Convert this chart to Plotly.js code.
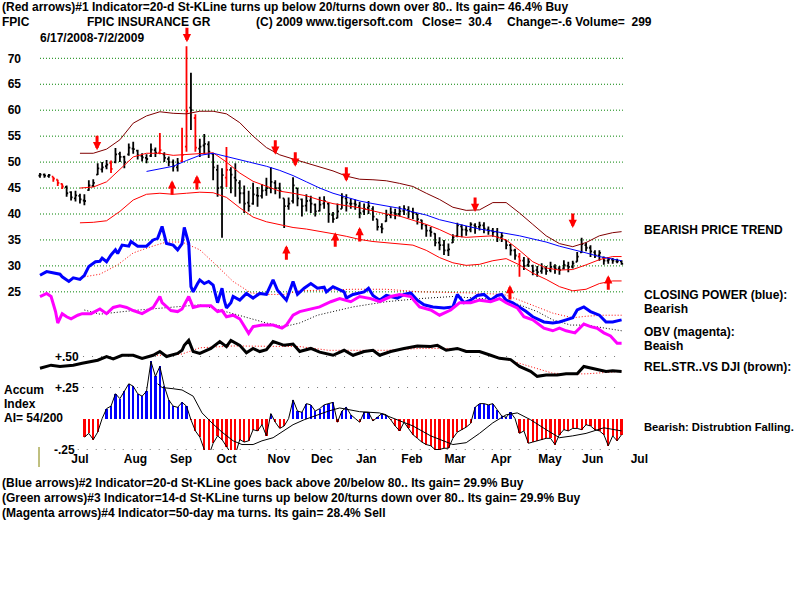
<!DOCTYPE html>
<html><head><meta charset="utf-8">
<script src="https://cdn.plot.ly/plotly-3.0.1.min.js"></script>
<style>body{margin:0;background:#fff}#chart{width:800px;height:600px}</style>
</head><body><div id="chart"></div>
<script>
// ---------------- DATA ----------------
// trading-day index 0 = 6/17/2008 ... 263 = 7/2/2009 ; price bars every 2nd day
const openP  = [47.4,47.6,47.3,47.2,46.6,45.8,45.2,44.2,43.0,43.5,42.6,44.6,45.4,47.6,48.6,49.2,49.8,50.0,51.6,51.0,
                51.5,52.6,52.2,51.2,50.8,51.2,52.3,51.8,51.5,50.6,50.0,49.0,50.2,53.0,60.5,58.5,52.6,53.2,53.4,51.6,
                48.5,45.2,47.0,48.5,47.0,46.0,44.0,42.2,42.0,43.6,43.5,44.6,45.0,46.0,45.0,43.0,41.5,42.5,45.0,42.8,
                41.6,42.6,41.8,40.6,42.0,42.0,39.8,39.2,41.0,43.0,42.0,42.0,41.5,40.5,41.2,41.0,39.0,37.5,38.6,39.8,
                40.2,40.0,40.6,40.8,40.4,40.0,38.8,37.8,36.8,36.2,34.5,34.0,33.0,34.5,35.8,37.6,37.0,37.0,37.8,37.5,
                37.8,37.0,36.8,36.6,35.5,35.0,34.0,33.0,31.8,31.0,30.2,30.0,29.2,29.0,29.5,29.2,29.8,29.5,29.5,30.0,
                29.8,30.8,32.6,34.0,33.5,32.6,32.0,31.6,31.0,31.2,30.9,30.9];
const highP  = [47.9,47.8,47.7,47.2,46.6,45.9,45.5,44.4,44.5,43.9,43.8,46.5,46.7,49.8,50.0,50.4,50.3,52.7,52.0,51.2,
                53.6,53.9,52.4,51.7,51.5,53.6,52.8,55.6,51.9,51.1,50.5,50.8,56.6,72.3,67.2,59.2,54.5,55.4,54.0,51.7,
                49.5,48.8,52.9,49.0,49.8,46.5,45.5,44.5,46.0,45.2,45.8,47.0,49.0,46.5,46.0,43.0,43.2,47.1,45.0,43.0,
                43.8,43.5,42.0,43.3,43.4,42.1,40.4,42.0,44.0,43.8,43.0,42.8,42.3,42.0,42.5,41.5,39.0,38.2,40.8,41.3,
                41.0,41.5,41.7,41.5,41.2,40.0,38.9,38.0,37.5,36.3,35.5,35.0,34.3,36.1,38.3,38.0,37.7,38.4,38.2,38.5,
                38.4,37.6,37.3,37.3,36.5,35.0,34.2,33.3,32.5,31.7,31.5,30.2,30.0,30.5,30.0,30.8,30.3,30.0,31.1,30.8,
                31.0,32.7,35.4,34.5,34.0,33.0,33.0,31.8,31.7,31.5,31.4,31.1];
const lowP   = [47.0,47.0,47.0,46.2,45.4,44.8,43.3,42.6,42.4,42.0,41.7,44.5,45.2,47.5,48.0,48.6,47.9,49.8,50.0,48.8,
                51.2,51.6,50.5,50.1,49.8,51.0,51.0,51.5,50.0,49.2,48.2,48.2,50.0,52.0,56.2,52.0,51.0,51.5,50.8,46.5,
                43.3,35.4,45.2,44.0,43.3,42.0,40.2,40.5,41.8,41.4,43.0,43.5,44.0,43.8,43.0,37.3,40.8,42.0,41.5,39.5,
                40.5,40.2,39.5,40.5,41.0,38.3,38.3,39.2,41.0,40.5,41.0,40.8,39.2,39.8,40.0,38.7,36.8,36.3,38.5,39.2,
                39.0,39.5,39.8,39.2,39.0,38.0,37.0,35.6,35.6,33.8,33.0,32.1,31.9,34.4,35.5,35.5,35.8,36.5,36.2,36.8,
                36.3,36.0,35.6,34.6,34.6,33.2,32.0,31.2,27.9,29.2,29.8,28.2,27.9,28.5,28.3,28.8,28.5,28.3,29.3,28.8,
                29.5,30.8,32.5,32.8,31.7,31.5,31.0,30.2,30.4,30.4,30.5,30.2];
const closeP = [47.6,47.4,47.5,46.8,46.0,45.3,44.0,43.2,43.6,42.8,42.5,45.5,46.0,48.8,49.0,49.5,48.7,51.5,51.0,50.0,
                52.8,52.5,51.3,50.9,50.6,52.4,51.8,52.3,50.8,50.0,49.2,49.8,51.4,59.8,60.0,52.8,53.0,53.5,52.0,49.0,
                45.0,47.5,48.5,47.6,46.5,44.0,42.0,41.5,43.8,43.5,44.5,45.0,46.2,45.0,44.5,41.5,42.0,45.5,43.0,41.5,
                42.5,42.0,40.5,41.8,42.5,40.0,39.0,40.5,43.2,42.2,42.0,41.8,40.2,41.0,41.5,39.5,37.5,37.2,39.8,40.3,
                40.0,40.5,41.0,40.5,40.2,39.0,38.0,36.8,36.5,34.5,34.0,33.0,33.2,35.5,37.8,37.0,36.8,38.0,37.5,37.8,
                37.2,36.8,36.5,35.5,35.8,34.0,33.0,32.0,31.0,30.0,30.8,29.0,28.8,29.5,29.0,29.8,29.5,29.2,30.2,29.8,
                30.5,31.8,34.2,33.5,32.8,32.0,32.5,31.0,31.2,31.0,30.9,30.4];
const redBarDays = [6,8,10,32,54,64,66,70,84,216];

// Bollinger-type bands and 50-day MA
const bandDay   = [18,24,30,36,42,48,54,60,66,72,78,84,90,96,102,108,114,120,126,132,138,144,150,156,162,168,174,180,186,192,198,204,210,216,222,228,234,240,246,252,258,262];
const upperBand = [51.7,51.7,52.5,54.3,57.5,58.9,59.7,59.4,59.3,59.8,59.8,59.3,57.6,55.0,52.8,51.4,50.6,49.8,49.0,48.3,47.3,46.7,46.6,46.4,45.9,45.3,44.0,42.8,41.3,40.7,40.8,42.2,42.2,40.2,38.0,35.8,34.3,33.7,34.5,35.8,36.4,36.6];
const midBand   = [45.0,45.2,46.2,48.6,51.0,51.7,51.7,51.3,51.5,51.7,51.8,50.0,47.9,46.3,45.3,44.4,44.0,43.5,42.7,42.0,41.6,41.2,40.6,40.0,39.6,38.8,38.0,37.0,35.8,35.5,35.6,35.8,35.0,33.0,30.8,29.6,29.2,29.3,30.2,31.2,31.8,31.8];
const lowerBand = [38.3,38.4,38.7,40.5,42.7,43.8,44.0,43.8,44.0,44.2,44.1,43.2,41.2,39.4,38.5,37.9,37.4,37.1,36.7,36.2,35.7,35.1,34.7,34.5,34.3,34.0,33.0,31.6,30.6,30.1,30.3,31.0,31.4,30.2,28.6,27.4,26.0,25.2,25.5,26.6,27.1,27.1];
const maDay  = [48,54,60,66,72,78,84,90,96,102,108,114,120,126,132,138,144,150,156,162,168,174,180,186,192,198,204,210,216,222,228,234,240,246,252,258,262];
const ma50   = [48.2,48.7,49.2,50.3,51.3,51.7,51.1,50.4,49.9,49.2,48.4,47.4,46.2,45.0,44.0,43.2,42.5,42.0,41.5,41.1,40.4,39.8,38.9,38.3,37.8,37.1,36.7,36.3,35.8,35.2,34.6,33.8,33.2,32.5,31.8,31.3,31.0];

// Closing Power (blue) and its MA (red dotted), drawn on the price scale
const cpDay = [0,3,9,10,13,15,18,20,22,25,27,28,30,32,34,35,37,40,41,44,48,51,53,55,57,60,62,64,65,67,68,69,71,72,74,76,78,80,82,83,84,86,87,90,93,96,99,102,105,107,111,114,116,119,122,125,128,129,132,137,138,141,146,148,150,153,156,161,164,167,170,173,177,182,186,188,191,194,197,200,203,206,208,210,213,216,219,222,227,231,234,237,240,242,245,248,252,255,258,262];
const cpVal = [28.2,28.9,28.4,27.9,27.0,27.7,27.4,28.2,29.9,30.8,30.9,31.5,30.8,32.1,33.1,32.4,34.0,33.8,34.7,33.8,33.8,35.0,35.3,37.6,34.3,34.0,33.1,34.3,37.4,34.3,26.0,25.0,26.6,27.3,26.6,27.0,26.3,22.9,25.7,23.4,21.9,22.9,24.1,23.4,24.7,23.8,24.7,24.5,27.3,25.3,23.4,27.0,24.5,25.7,26.6,25.7,25.9,25.0,26.0,25.0,23.8,24.5,25.0,25.7,24.3,23.4,24.3,23.8,24.5,24.8,23.4,22.5,22.1,21.9,22.1,24.5,22.9,23.4,24.3,24.5,23.4,24.3,24.5,23.4,22.9,22.1,21.2,20.2,19.2,19.0,19.2,19.6,20.0,21.5,22.1,21.2,20.5,19.2,19.2,19.6];
const cpMaDay = [20,27,35,42,50,57,64,72,80,87,95,102,110,117,125,141,156,171,194,209,216,224,231,240,246,254,262];
const cpMaVal = [27.9,28.4,30.2,32.5,33.7,34.6,34.6,33.1,29.9,27.0,24.8,24.5,24.5,25.2,25.3,25.5,25.5,25.0,24.8,24.5,23.4,22.1,20.9,20.0,20.3,20.5,20.5];

// OBV (magenta) and its MA (black dotted), drawn on the price scale
const obvDay = [0,3,5,7,8,10,12,14,17,19,23,27,30,33,36,39,42,46,51,54,55,59,62,64,67,69,72,77,80,82,84,87,90,94,96,100,105,109,111,114,117,122,126,131,135,140,144,149,153,158,162,167,171,176,180,185,189,194,198,203,207,210,215,218,222,227,231,234,237,241,245,248,251,254,257,260,262];
const obvVal = [24.1,24.7,24.1,21.2,19.0,20.8,20.2,19.8,20.5,20.8,20.8,21.7,20.8,22.0,22.3,22.0,21.4,20.8,22.0,24.1,22.9,21.4,21.2,21.7,24.1,22.0,22.3,22.3,21.2,21.4,20.2,20.5,19.8,17.0,18.3,18.6,18.6,18.0,18.6,20.5,21.2,21.7,22.1,23.1,23.7,23.1,24.1,23.7,23.1,24.1,24.5,24.1,22.1,21.5,20.5,21.5,22.9,22.9,23.4,23.1,23.7,22.9,21.9,20.2,19.6,18.0,17.5,18.0,17.5,17.1,18.8,18.3,18.0,17.1,16.5,15.1,15.1];
const obvMaDay = [20,27,42,57,72,87,102,110,117,125,141,156,171,186,201,209,216,224,231,239,246,254,262];
const obvMaVal = [21.5,20.7,21.4,22.0,22.5,20.8,19.0,18.3,19.0,20.5,22.1,23.1,23.7,24.1,23.7,23.4,22.5,21.2,19.6,18.6,18.6,18.0,17.5];

// Relative strength vs DJI (black) and its MA (red dotted), accumulation scale
const rsDay = [0,5,9,15,19,26,30,33,37,42,46,51,54,57,62,64,65,67,69,72,77,81,84,86,90,93,96,99,102,105,110,114,117,122,126,132,137,141,146,150,153,158,164,170,176,179,183,188,192,198,203,207,212,216,221,224,228,233,237,242,245,251,255,258,262];
const rsVal = [0.405,0.43,0.42,0.43,0.445,0.47,0.50,0.48,0.51,0.51,0.485,0.51,0.54,0.50,0.525,0.55,0.59,0.63,0.54,0.525,0.565,0.62,0.58,0.63,0.59,0.53,0.565,0.54,0.555,0.62,0.59,0.60,0.54,0.565,0.535,0.51,0.55,0.51,0.54,0.55,0.51,0.54,0.565,0.585,0.58,0.59,0.55,0.565,0.54,0.54,0.51,0.485,0.475,0.42,0.38,0.34,0.35,0.35,0.36,0.36,0.42,0.395,0.38,0.385,0.38];
const rsMaDay = [50,57,64,72,87,102,117,130,156,171,186,201,216,224,231,239,246,262];
const rsMaVal = [0.51,0.51,0.52,0.57,0.585,0.58,0.58,0.55,0.55,0.565,0.565,0.525,0.445,0.405,0.365,0.36,0.36,0.38];

// Accumulation Index (bars every 2nd day from day 20) and its MA
const accVal = [-0.15,-0.12,-0.17,-0.11,0.0,0.08,0.10,0.20,0.16,0.22,
                0.28,0.26,0.20,0.18,0.22,0.46,0.34,0.42,0.26,0.15,
                0.10,0.09,0.13,0.10,-0.01,-0.10,-0.15,-0.25,-0.30,-0.20,
                -0.14,-0.17,-0.23,-0.28,-0.29,-0.17,-0.19,-0.18,-0.09,-0.10,
                -0.05,-0.14,0.04,-0.03,-0.08,-0.06,0.0,0.15,0.06,0.05,
                0.12,0.11,0.06,0.08,0.11,0.12,0.13,-0.03,0.06,0.09,
                0.03,0.0,-0.03,0.05,0.05,-0.02,0.01,0.04,0.03,-0.01,
                -0.06,-0.10,-0.03,-0.08,-0.13,-0.16,-0.19,-0.21,-0.22,-0.25,
                -0.25,-0.24,-0.24,-0.16,-0.11,-0.09,-0.07,-0.04,0.09,0.12,
                0.12,0.11,0.12,0.07,0.02,0.01,0.05,0.0,-0.12,-0.10,
                -0.20,-0.19,-0.18,-0.17,-0.16,-0.16,-0.21,-0.13,-0.09,-0.10,
                -0.08,-0.08,-0.09,-0.05,-0.06,-0.09,-0.10,-0.13,-0.22,-0.14,
                -0.18,-0.13];
const accMaDay = [53,55,60,64,69,73,78,82,87,91,96,100,105,110,114,119,125,130,135,144,153,161,168,176,186,192,198,204,210,215,221,228,234,240,246,254,262];
const accMaVal = [0.28,0.25,0.24,0.23,0.18,0.045,-0.045,-0.11,-0.18,-0.21,-0.21,-0.18,-0.155,-0.10,-0.05,-0.01,0.03,0.06,0.085,0.055,0.045,-0.01,-0.06,-0.14,-0.21,-0.195,-0.12,-0.035,0.03,0.045,-0.01,-0.09,-0.155,-0.14,-0.12,-0.075,-0.1];

// Signal arrows (red)
const downArrowDay   = [25.7,66.2,106,115,138,196,240];
const downArrowPrice = [52.3,73.1,51.4,49.1,46.2,40.4,37.3];
const upArrowDay     = [59.5,70.7,111,133,144,211.7,256];
const upArrowPrice   = [46.5,47.5,34.0,36.5,37.5,26.3,28.2];

// Axis labels
const priceTicks  = [25,30,35,40,45,50,55,60,65,70];
const monthPos    = [18,43,63.5,84,107.6,127,147,167.6,187,207.7,229.7,249,270];
const monthLabels = ['Jul','Aug','Sep','Oct','Nov','Dec','Jan','Feb','Mar','Apr','May','Jun','Jul'];
const accLevels   = [0.5,0.25,-0.25];
const accLabels   = ['+.50','+.25','-.25'];

// ---------------- BUILD ----------------
const priceDay = closeP.map((_, k) => 2 * k);
const accDay = accVal.map((_, k) => 20 + 2 * k);
const FONT = 'Liberation Sans, Arial, sans-serif';
const L = 30, T = 0, PW = 620, PH = 450;
const PX = px => (px - L) / PW;
const PY = py => 1 - (py - T) / PH;

function sel(arr, want) { return arr.filter((_, k) => redBarDays.includes(priceDay[k]) === want); }
function ohlc(red) {
  const c = red ? '#ff0000' : '#000000';
  return {type: 'ohlc', x: sel(priceDay, red), open: sel(openP, red), high: sel(highP, red),
    low: sel(lowP, red), close: sel(closeP, red), tickwidth: 0.35, hoverinfo: 'skip',
    increasing: {line: {color: c, width: 1.8}}, decreasing: {line: {color: c, width: 1.8}}};
}
function line(x, y, color, width, dash, axis) {
  return {type: 'scatter', mode: 'lines', x: x, y: y, yaxis: axis || 'y', hoverinfo: 'skip',
    line: {color: color, width: width, dash: dash || 'solid'}};
}

const traces = [
  line(bandDay, upperBand, '#800000', 1),
  line(bandDay, midBand, '#ff0000', 1),
  line(bandDay, lowerBand, '#ff0000', 1),
  line(maDay, ma50, '#0000ff', 1),
  ohlc(false), ohlc(true),
  line(cpMaDay, cpMaVal, '#ff0000', 1, '1px,2px'),
  line(obvMaDay, obvMaVal, '#000000', 1, '1px,2px'),
  line(cpDay, cpVal, '#0000ff', 3),
  line(obvDay, obvVal, '#ff00ff', 3),
  line(rsMaDay, rsMaVal, '#ff0000', 1, '1px,2px', 'y2'),
  line(rsDay, rsVal, '#000000', 3, 'solid', 'y2'),
  {type: 'bar', x: accDay, y: accVal, yaxis: 'y2', width: 1, cliponaxis: false, hoverinfo: 'skip',
   marker: {color: accVal.map(v => v >= 0 ? '#0000ff' : '#ff0000'), line: {width: 0}}},
  Object.assign(line(accDay, accVal, '#000000', 1, 'solid', 'y2'), {cliponaxis: false}),
  line(accMaDay, accMaVal, '#000000', 1, 'solid', 'y2')
];

const shapes = [];
priceTicks.forEach(p => shapes.push({type: 'line', xref: 'x', yref: 'y', x0: 0, x1: 262.6, y0: p, y1: p,
  layer: 'below', line: {color: '#008000', width: 1, dash: '1px,2px'}}));
accLevels.forEach((v, k) => shapes.push({type: 'line', xref: 'x', yref: 'y2', x0: k === 2 ? 17 : 19.4, x1: 262.6, y0: v, y1: v,
  layer: 'below', line: {color: '#777777', width: 1, dash: '1px,8px'}}));
shapes.push({type: 'line', xref: 'paper', yref: 'paper', x0: PX(39), x1: PX(39), y0: PY(447), y1: PY(467),
  line: {color: '#808000', width: 1}});

const ann = [];
function txt(s, px, py, size, bold, anchor) {
  ann.push({text: bold ? '<b>' + s + '</b>' : s, x: PX(px), y: PY(py), xref: 'paper', yref: 'paper',
    xanchor: anchor || 'left', yanchor: 'middle', showarrow: false,
    font: {family: FONT, size: size, color: '#000'}});
}
const HS = 12;
txt('(Red arrows)#1 Indicator=20-d St-KLine turns up below 20/turns down over 80.. Its gain= 46.4% Buy', 0, 7, HS, true);
txt('FPIC', 0, 22, HS, true);
txt('FPIC INSURANCE GR', 85, 22, HS, true);
txt('(C) 2009 www.tigersoft.com', 254, 22, HS, true);
txt('Close=  30.4', 420, 22, HS, true);
txt('Change=-.6 Volume=  299', 505, 22, HS, true);
txt('6/17/2008-7/2/2009', 38, 38, HS, true);
txt('(Blue arrows)#2 Indicator=20-d St-KLine goes back above 20/below 80.. Its gain= 29.9% Buy', 0, 483, HS, true);
txt('(Green arrows)#3 Indicator=14-d St-KLine turns up below 20/turns down over 80.. Its gain= 29.9% Buy', 0, 498, HS, true);
txt('(Magenta arrows)#4 Indicator=50-day ma turns. Its gain= 28.4% Sell', 0, 513, HS, true);
txt('BEARISH PRICE TREND', 642, 230, 12, true);
txt('CLOSING POWER (blue):', 642, 295, 12, true);
txt('Bearish', 642, 309, 12, true);
txt('OBV (magenta):', 642, 332, 12, true);
txt('Beaish', 642, 346, 12, true);
txt('REL.STR..VS DJI (brown):', 642, 367, 12, true);
txt('Bearish: Distrubtion Falling.', 642, 427, 11.2, true);
txt('Accum', 2, 390, 12, true);
txt('Index', 2, 404, 12, true);
txt('AI= 54/200', 2, 418, 12, true);
accLevels.forEach((v, k) => ann.push({text: '<b>' + accLabels[k] + '</b>', x: k === 2 ? 16.5 : 18.5, y: v,
  xref: 'x', yref: 'y2', xanchor: 'right', yanchor: 'middle', showarrow: false,
  font: {family: FONT, size: 12, color: '#000'}}));

const arrowStyle = {xref: 'x', yref: 'y', text: '', showarrow: true, ax: 0, arrowhead: 2,
  arrowsize: 0.55, arrowwidth: 3, arrowcolor: '#ff0000'};
downArrowDay.forEach((d, k) => ann.push(Object.assign({}, arrowStyle, {x: d, y: downArrowPrice[k], ay: -16})));
upArrowDay.forEach((d, k) => ann.push(Object.assign({}, arrowStyle, {x: d, y: upArrowPrice[k], ay: 16})));

const layout = {
  width: 800, height: 600, margin: {l: L, r: 800 - L - PW, t: T, b: 600 - T - PH, pad: 0},
  paper_bgcolor: '#ffffff', plot_bgcolor: '#ffffff', showlegend: false, bargap: 0,
  font: {family: FONT, size: 12, color: '#000'},
  xaxis: {range: [-4.5, 274.8], rangeslider: {visible: false}, showgrid: false, zeroline: false, showline: false,
    ticks: '', tickmode: 'array', tickvals: monthPos, ticktext: monthLabels,
    tickfont: {family: FONT, size: 12, color: '#000', weight: 'bold'}},
  yaxis: {range: [-5.472, 81.233], showgrid: false, zeroline: false, showline: false, ticks: '',
    tickmode: 'array', tickvals: priceTicks, ticklabelstandoff: 8,
    tickfont: {family: FONT, size: 12, color: '#000', weight: 'bold'}},
  yaxis2: {range: [-0.254, 3.375], overlaying: 'y', visible: false, showgrid: false, zeroline: false},
  shapes: shapes, annotations: ann
};
Plotly.newPlot('chart', traces, layout, {staticPlot: true, displayModeBar: false});
</script></body></html>
